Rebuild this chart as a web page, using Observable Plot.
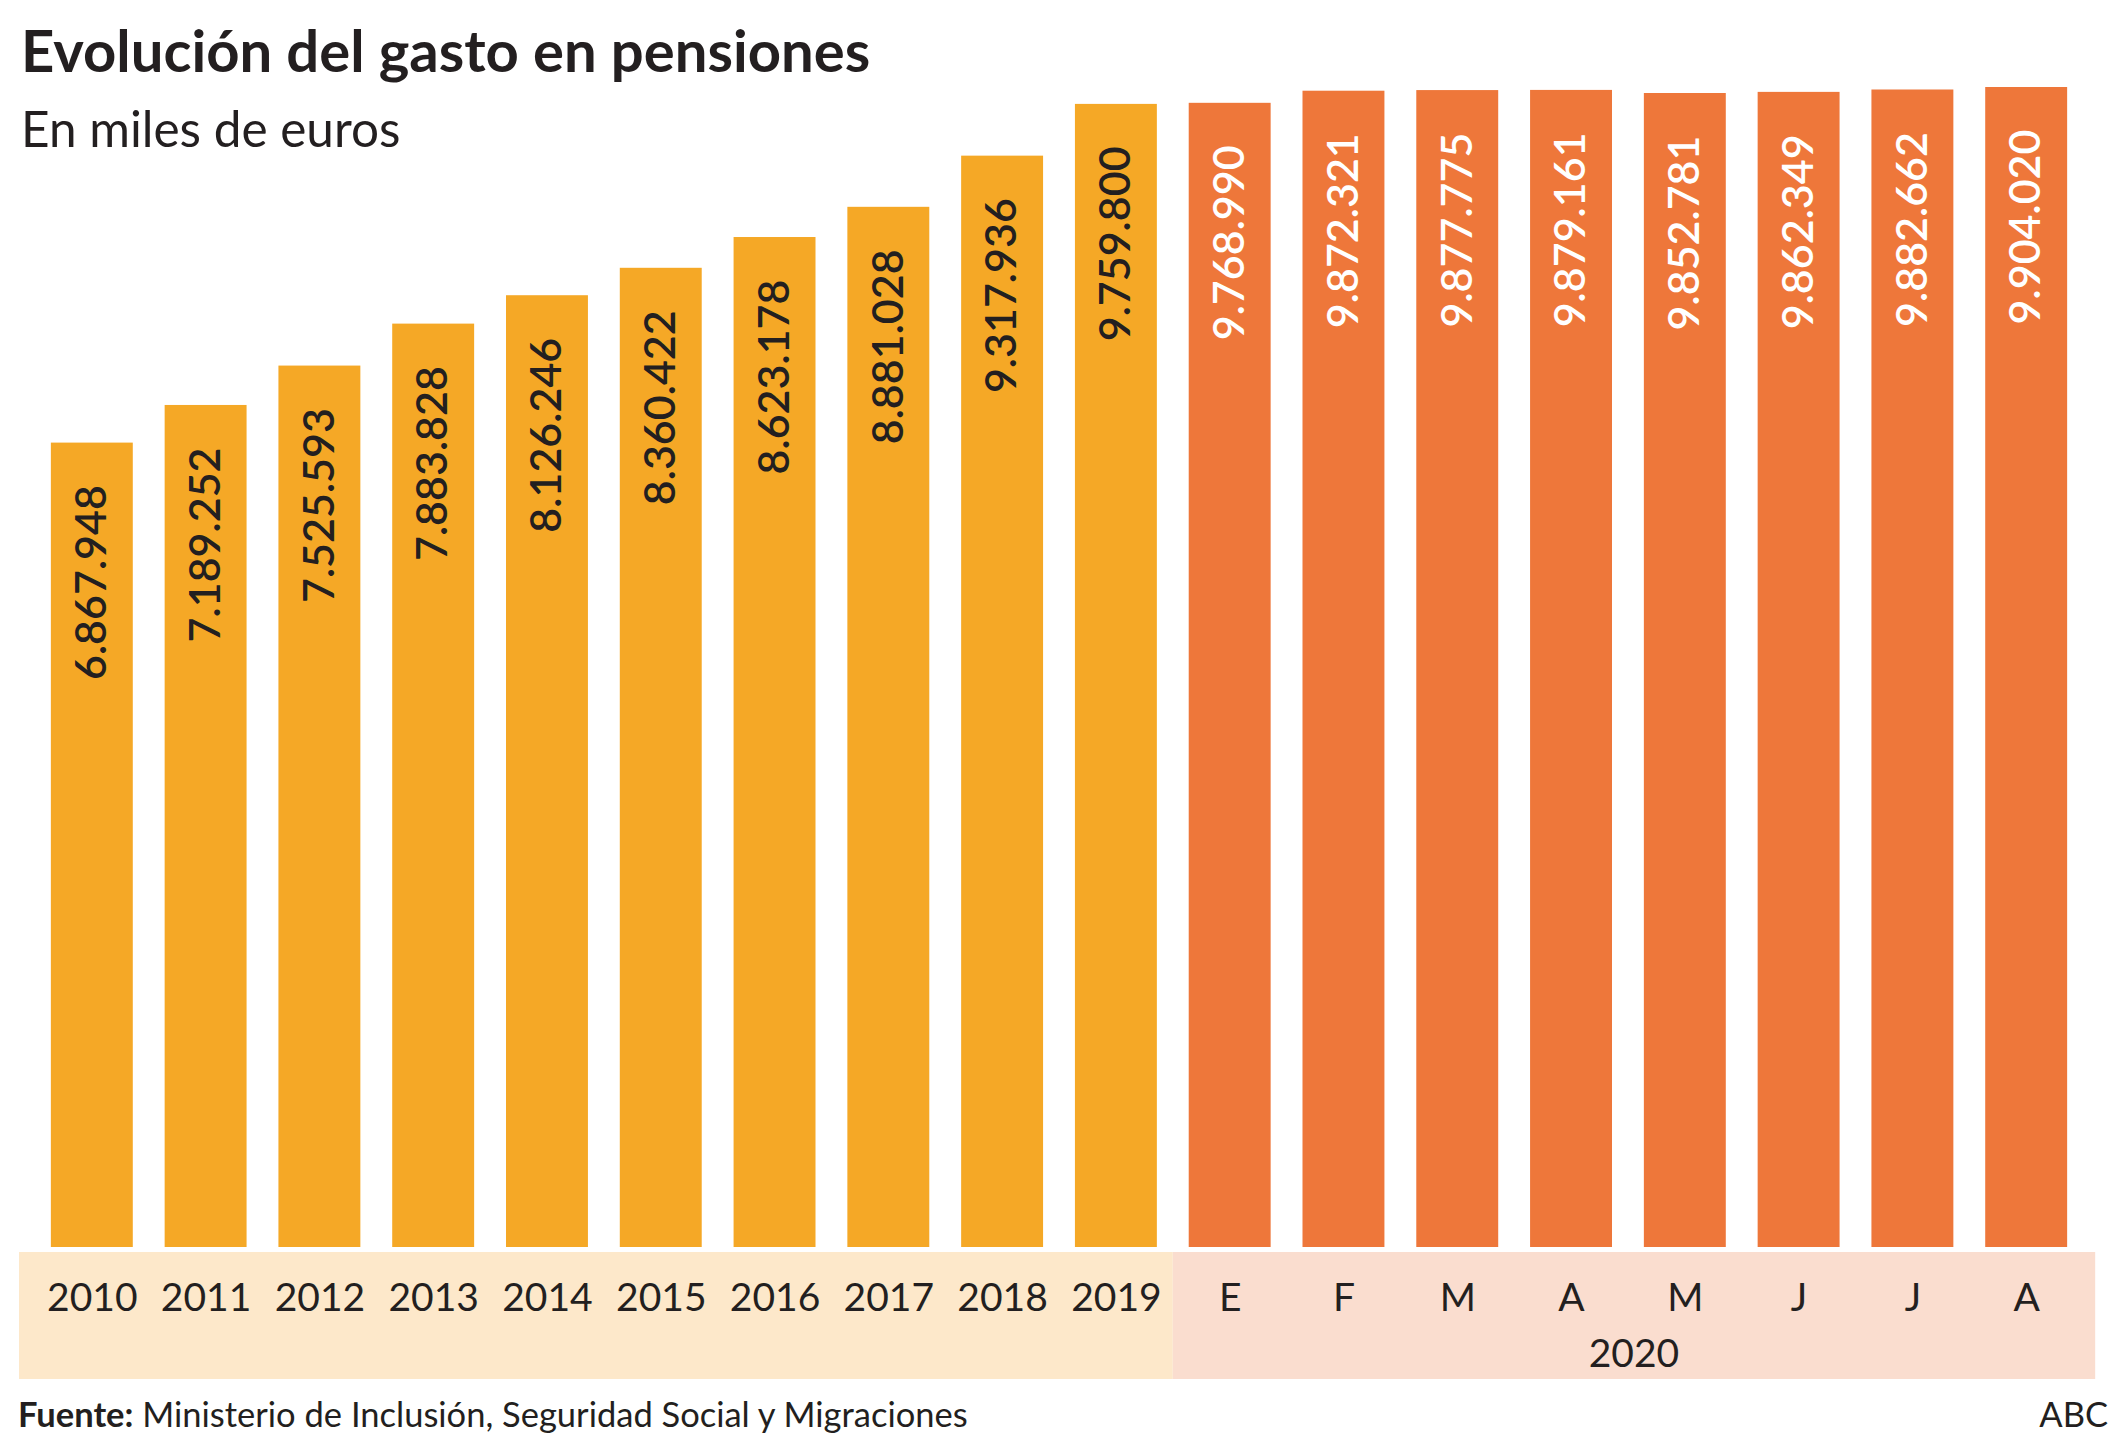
<!DOCTYPE html>
<html>
<head>
<meta charset="utf-8">
<script src="https://cdn.jsdelivr.net/npm/d3@7"></script>
<script src="https://cdn.jsdelivr.net/npm/@observablehq/plot@0.6"></script>
<style>
  html, body { margin: 0; padding: 0; background: #ffffff; }
  #page { position: relative; width: 2126px; height: 1455px; overflow: hidden; font-family: Lato, "Open Sans", sans-serif; color: #231f20; }
  #title { position: absolute; left: 21px; top: 21px; font-size: 58px; line-height: 58px; font-weight: 700; white-space: nowrap; }
  #subtitle { position: absolute; left: 21px; top: 104px; font-size: 49.5px; line-height: 49.5px; font-weight: 400; white-space: nowrap; }
  #chart { position: absolute; left: 0; top: 0; }
  #source { position: absolute; left: 18px; top: 1397px; font-size: 34.5px; line-height: 34.5px; white-space: nowrap; }
  #credit { position: absolute; right: 18px; top: 1397px; font-size: 34.5px; line-height: 34.5px; white-space: nowrap; }
</style>
</head>
<body>
<div id="page">
  <div id="chart"></div>
  <div id="title">Evolución del gasto en pensiones</div>
  <div id="subtitle">En miles de euros</div>
  <div id="source"><b>Fuente:</b> Ministerio de Inclusión, Seguridad Social y Migraciones</div>
  <div id="credit">ABC</div>
</div>
<script>
// ---- data ----
const keys = ["2010","2011","2012","2013","2014","2015","2016","2017","2018","2019",
              "2020-01","2020-02","2020-03","2020-04","2020-05","2020-06","2020-07","2020-08"];
const tickLabels = ["2010","2011","2012","2013","2014","2015","2016","2017","2018","2019",
                    "E","F","M","A","M","J","J","A"];
const periods = ["anual","anual","anual","anual","anual","anual","anual","anual","anual","anual",
                 "2020","2020","2020","2020","2020","2020","2020","2020"];
const values = [6867948, 7189252, 7525593, 7883828, 8126246, 8360422, 8623178, 8881028, 9317936, 9759800,
                9768990, 9872321, 9877775, 9879161, 9852781, 9862349, 9882662, 9904020];
const groupNames = ["", "2020"];
const groupPeriods = ["anual", "2020"];

// ---- styles ----
const barColors = {anual: "#F5A826", "2020": "#EE773A"};
const bandColors = {anual: "#FDE8CA", "2020": "#FADDCF"};
const labelColors = {anual: "#231f20", "2020": "#ffffff"};

const data = keys.map((k, i) => ({key: k, label: tickLabels[i], period: periods[i], value: values[i]}));
const labelOf = Object.fromEntries(data.map(d => [d.key, d.label]));
const fmt = d3.formatLocale({decimal: ",", thousands: ".", grouping: [3], currency: ["", "€"]}).format(",d");

const W = 2126, H = 1390, base = 1247;
const pxPerUnit = 1160 / 9904020;
const yMax = 10000000;
const marginTop = base - yMax * pxPerUnit;

function groupBands(index, scales, vals, dims) {
  const x = scales.x;
  const step = x.step(), bw = x.bandwidth(), gap = step - bw;
  const yTop = dims.height - dims.marginBottom;
  const g = d3.create("svg:g");
  groupPeriods.forEach((p, gi) => {
    const ks = data.filter(d => d.period === p).map(d => d.key);
    const a = x(ks[0]), b = x(ks[ks.length - 1]) + bw;
    const x1 = gi === 0 ? a - gap : a - gap / 2;
    const x2 = gi === groupPeriods.length - 1 ? b + gap * 0.88 : b + gap / 2;
    g.append("rect").attr("x", x1).attr("y", yTop + 5).attr("width", x2 - x1).attr("height", 127)
      .attr("fill", bandColors[p]);
    if (groupNames[gi]) {
      g.append("text").attr("x", (x1 + x2) / 2).attr("y", yTop + 120)
        .attr("text-anchor", "middle").attr("font-size", 39).attr("fill", "#231f20")
        .attr("font-family", "Lato, 'Open Sans', sans-serif")
        .text(groupNames[gi]);
    }
  });
  return g.node();
}

const chart = Plot.plot({
  width: W,
  height: H,
  marginLeft: 19,
  marginRight: 27,
  marginTop: marginTop,
  marginBottom: H - base,
  style: {fontFamily: "Lato, 'Open Sans', sans-serif", background: "transparent", color: "#231f20"},
  x: {type: "band", domain: keys, padding: 0.28, round: false, axis: null},
  y: {domain: [0, yMax], axis: null},
  color: {domain: Object.keys(barColors), range: Object.values(barColors)},
  marks: [
    groupBands,
    Plot.barY(data, {x: "key", y: "value", fill: "period"}),
    Plot.text(data, {
      x: "key", y: "value", text: d => fmt(d.value),
      rotate: -90, textAnchor: "end", dy: 42,
      fontSize: 43, fontWeight: 600,
      fill: d => labelColors[d.period]
    }),
    Plot.axisX({
      tickSize: 0, tickPadding: 36, fontSize: 39, label: null,
      tickFormat: k => labelOf[k]
    })
  ]
});
document.getElementById("chart").appendChild(chart);
</script>
</body>
</html>
